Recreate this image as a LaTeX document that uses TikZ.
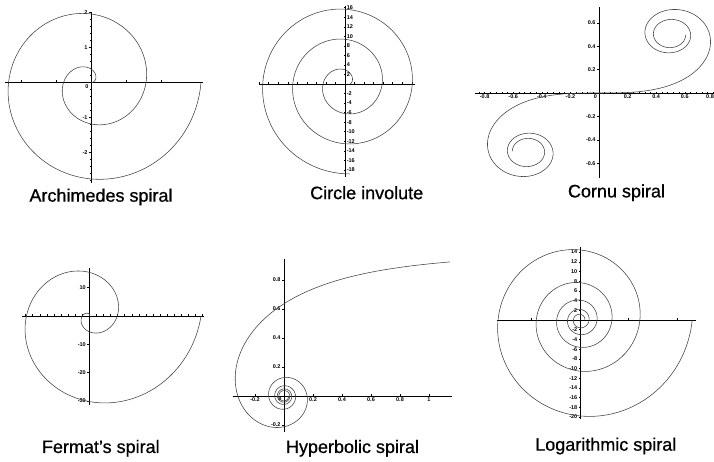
\documentclass[tikz,border=0pt]{standalone}
\usepackage{fontspec}
\setmainfont{Liberation Sans}
\newfontfamily\titlefont[FakeBold=0.7]{Liberation Sans}

\begin{document}
\begin{tikzpicture}[
  x=1pt,y=-1pt,
  curve/.style={draw=black!75,line width=0.55pt,line join=round,line cap=round},
  axis/.style={draw=black,line width=0.8pt},
  tick/.style={draw=black,line width=0.45pt},
  ticklabel/.style={font=\fontsize{5.5}{6}\selectfont\bfseries,inner sep=0.8pt},
  title/.style={font=\titlefont\fontsize{18}{20}\selectfont,inner sep=0pt}
]
  \useasboundingbox (0,0) rectangle (714,461);

  % Archimedes spiral r = t/4
  \begin{scope}[shift={(91,82.7)},x=35pt,y=35pt]
    \draw[axis] (-2.46,0) -- (3.2,0);
    \draw[axis] (0,2.02) -- (0,-2.87);
    \foreach \k in {-2,-1,1,2}
      \draw[tick] (\k,0) -- +(0,2.5pt);
    \foreach \k in {-2.8,-2.6,...,2.0}
      \draw[tick] (0,\k) -- +(-1.3pt,0);
    \foreach \k in {-2,-1,1,2}{
      \draw[tick] (0,\k) -- +(-2.5pt,0);
      \node[ticklabel,anchor=east] (archi-y\k) at ([xshift=-2.5pt]0,\k) {\k};
    }
    \node[ticklabel] (archi-zero) at (-0.12,-0.1) {0};
    \draw[curve] plot[domain=0:4*pi,samples=240,smooth,variable=\t]
      ({\t/4*cos(\t r)},{\t/4*sin(\t r)});
  \end{scope}
  \node[title] (archi-title) at (101,197) {Archimedes spiral};

  % circle involute
  \begin{scope}[shift={(345,84)},x=4.77pt,y=4.77pt]
    \draw[axis] (-18,0) -- (14.7,0);
    \draw[axis] (0,16.4) -- (0,-19.5);
    \foreach \k in {-18,-16,...,14}
      \draw[tick] (\k,0) -- +(0,2pt);
    \foreach \k in {-18,-16,...,-2,2,4,...,16}{
      \draw[tick] (0,\k) -- +(-1.5pt,0);
      \node[ticklabel,anchor=west] (invol-y\k) at ([xshift=0.8pt]0,\k) {\k};
    }
    \draw[curve] plot[domain=0:6*pi,samples=300,smooth,variable=\t]
      ({cos(\t r)+\t*sin(\t r)},{sin(\t r)-\t*cos(\t r)});
  \end{scope}
  \node[title] (invol-title) at (366.7,192.7) {Circle involute};

  % Cornu spiral, Fresnel integrals summed step by step
  \begin{scope}[shift={(599,93)},x=143pt,y=117pt]
    \draw[axis] (-0.866,0) -- (0.81,0);
    \draw[axis] (0,0.735) -- (0,-0.726);
    \foreach \k in {-0.84,-0.80,...,0.81}
      \draw[tick] (\k,0) -- +(0,1.3pt);
    \foreach \k [count=\i] in {-0.8,-0.6,-0.4,-0.2,0.2,0.4,0.6}
      \node[ticklabel,anchor=north] (cornu-x\i) at ([yshift=-0.6pt]\k,0) {\k};
    \node[ticklabel,anchor=north east] (cornu-x8) at ([yshift=-0.6pt]0.81,0) {0.8};
    \foreach \k [count=\i] in {-0.6,-0.4,-0.2,0.2,0.4,0.6}{
      \draw[tick] (0,\k) -- +(-2pt,0);
      \node[ticklabel,anchor=east] (cornu-y\i) at ([xshift=-2.5pt]0,\k) {\k};
    }
    \node[ticklabel,anchor=north east] (cornu-zero) at ([xshift=-1pt,yshift=-0.6pt]0,0) {0};
    \xdef\cornupath{(0,0)}
    \gdef\cx{0}\gdef\cy{0}
    \foreach \i in {1,...,300}{
      \pgfmathsetmacro\tm{(\i-0.5)/100}
      \pgfmathsetmacro\nx{\cx+cos(90*\tm*\tm)}
      \pgfmathsetmacro\ny{\cy+sin(90*\tm*\tm)}
      \xdef\cx{\nx}\xdef\cy{\ny}
      \xdef\cornupath{\cornupath -- (\cx/100,\cy/100)}
    }
    \draw[curve] \cornupath;
    \draw[curve,scale=-1] \cornupath;
  \end{scope}
  \node[title] (cornu-title) at (616.5,192.7) {Cornu spiral};

  % Fermat's spiral r = t^2/4
  \begin{scope}[shift={(89.3,316)},x=2.83pt,y=2.83pt]
    \draw[axis] (-23.7,0) -- (40.5,0);
    \draw[axis] (0,16.9) -- (0,-31.4);
    \foreach \k in {-22.5,-20,...,40}
      \draw[tick] (\k,0) -- +(0,1.8pt);
    \foreach \k in {-30,-20,-10,10}{
      \draw[tick] (0,\k) -- +(-2pt,0);
      \node[ticklabel,anchor=east] (fermat-y\k) at ([xshift=-2.5pt]0,\k) {\k};
    }
    \draw[curve] plot[domain=0:4*pi,samples=240,smooth,variable=\t]
      ({\t*\t/4*cos(\t r)},{\t*\t/4*sin(\t r)});
  \end{scope}
  \node[title] (fermat-title) at (100.8,448.3) {Fermat’s spiral};

  % hyperbolic spiral r = 1/t
  \begin{scope}[shift={(284,396)},x=145pt,y=145pt]
    \draw[axis] (-0.354,0) -- (1.157,0);
    \draw[axis] (0,0.943) -- (0,-0.246);
    \foreach \k [count=\i] in {-0.2,0.2,0.4,0.6,0.8,1}{
      \draw[tick] (\k,0) -- +(0,2pt);
      \node[ticklabel,anchor=north] (hyper-x\i) at ([yshift=-0.8pt]\k,0) {\k};
    }
    \foreach \k [count=\i] in {-0.2,0.2,0.4,0.6,0.8}{
      \draw[tick] (0,\k) -- +(-2pt,0);
      \node[ticklabel,anchor=east] (hyper-y\i) at ([xshift=-2.5pt]0,\k) {\k};
    }
    \node[ticklabel] (hyper-zero) at (-0.028,-0.015) {0};
    \draw[curve] plot[domain=0.68:10*pi,samples=600,variable=\t]
      ({cos(\t r)/\t},{sin(\t r)/\t});
  \end{scope}
  \node[title] (hyper-title) at (352.5,448.3) {Hyperbolic spiral};

  % logarithmic spiral r = exp(t/10)
  \begin{scope}[shift={(580,320)},x=4.85pt,y=4.85pt]
    \draw[axis] (-17.2,0) -- (23.9,0);
    \draw[axis] (0,15) -- (0,-20.5);
    \foreach \k in {-10,10,20}
      \draw[tick] (\k,0) -- +(0,2pt);
    \foreach \k in {-20,-18,...,-2,2,4,...,14}{
      \draw[tick] (0,\k) -- +(-1.5pt,0);
      \node[ticklabel,anchor=east] (log-y\k) at ([xshift=-1.8pt]0,\k) {\k};
    }
    \draw[curve] plot[domain=0:10*pi,samples=400,smooth,variable=\t]
      ({exp(\t/10)*cos(\t r)},{exp(\t/10)*sin(\t r)});
  \end{scope}
  \node[title] (log-title) at (605.8,446) {Logarithmic spiral};
\end{tikzpicture}
\end{document}
